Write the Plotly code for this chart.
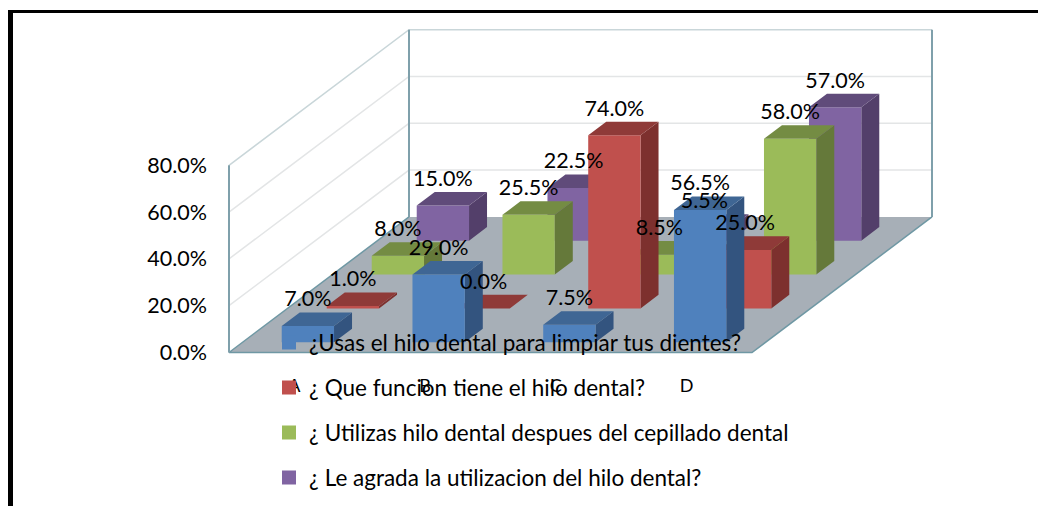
import plotly.graph_objects as go

# ---- data ----
categories = ["A", "B", "C", "D"]
series_names = [
    "¿Usas el hilo dental para limpiar tus dientes?",
    "¿ Que funcion tiene el hilo dental?",
    "¿ Utilizas hilo dental despues del cepillado dental",
    "¿ Le agrada la utilizacion del hilo dental?",
]
usas = [7.0, 29.0, 7.5, 56.5]
funcion = [1.0, 0.0, 74.0, 25.0]
utilizas = [8.0, 25.5, 8.5, 58.0]
agrada = [15.0, 22.5, 5.5, 57.0]
series_values = [usas, funcion, utilizas, agrada]
y_ticks = [0, 20, 40, 60, 80]
y_ticklabels = ["0.0%", "20.0%", "40.0%", "60.0%", "80.0%"]

# ---- styling ----
front_colors = ["#4f81bd", "#c0504d", "#9bbb59", "#8064a2"]
top_colors = ["#3f6694", "#8f3a38", "#748c43", "#604b7a"]
side_colors = ["#33547f", "#7d302e", "#65793a", "#533f6a"]
FONT = "Lato"
FS = 21.5
LEGEND_FS = 22.5

W, H = 1038, 506
X0, Y0 = 229.0, 352.5       # page position of the plot's front-left corner
CAT_PX, PCT_PX = 130.75, 2.34   # pixels per category, pixels per percentage point
ROW_DX, ROW_DY = 45.0, 33.9     # oblique shift per depth row, in pixels
DU, DZ = ROW_DX / CAT_PX, ROW_DY / PCT_PX
ROWS, CATS, ZMAX = 4, 4, 80


def proj(u, v, z):
    """oblique projection of (category, row, value) on the x/y axes"""
    return u + v * DU, z + v * DZ


def poly(points):
    xs, ys = zip(*[proj(*p) for p in points])
    return list(xs) + [xs[0], None], list(ys) + [ys[0], None]


def fill_trace(polys, color):
    xs, ys = [], []
    for p in polys:
        a, b = poly(p)
        xs += a
        ys += b
    return go.Scatter(x=xs, y=ys, mode="lines", fill="toself", fillcolor=color,
                      line=dict(width=0, color=color), hoverinfo="skip", showlegend=False)


def line_trace(pts, color, width):
    xs, ys = zip(*[proj(*p) for p in pts])
    return go.Scatter(x=xs, y=ys, mode="lines", line=dict(color=color, width=width),
                      hoverinfo="skip", showlegend=False)


fig = go.Figure()

# walls' gridlines
for z in y_ticks[1:]:
    color = "#c9d6d9" if z == ZMAX else "#e3e5e6"
    fig.add_trace(line_trace([(0, 0, z), (0, ROWS, z), (CATS, ROWS, z)], color, 1.5))

# floor
fig.add_trace(fill_trace([[(0, 0, 0), (CATS, 0, 0), (CATS, ROWS, 0), (0, ROWS, 0)]], "#a7afb7"))
edge = "#7fa0ab"
fig.add_trace(line_trace([(0, ROWS, 0), (0, 0, 0), (CATS, 0, 0), (CATS, ROWS, 0)], "#6f98a4", 1.5))
for u, v in [(0, 0), (0, ROWS), (CATS, ROWS)]:
    fig.add_trace(line_trace([(u, v, 0), (u, v, ZMAX)], edge, 2))

# bars, back row first
for row in range(ROWS - 1, -1, -1):
    vals = series_values[row]
    fronts, tops, sides = [], [], []
    v0, v1 = row + 0.3, row + 0.7
    for i, val in enumerate(vals):
        u0, u1 = i + 0.3, i + 0.7
        fronts.append([(u0, v0, 0), (u1, v0, 0), (u1, v0, val), (u0, v0, val)])
        tops.append([(u0, v0, val), (u1, v0, val), (u1, v1, val), (u0, v1, val)])
        sides.append([(u1, v0, 0), (u1, v1, 0), (u1, v1, val), (u1, v0, val)])
    fig.add_trace(fill_trace(sides, side_colors[row]))
    fig.add_trace(fill_trace(fronts, front_colors[row]))
    fig.add_trace(fill_trace(tops, top_colors[row]))

# value labels, above everything but the legend
LABEL_UP = 25 / PCT_PX
for row in range(ROWS - 1, -1, -1):
    vals = series_values[row]
    xs, ys = zip(*[proj(i + 0.5, row + 0.3, val) for i, val in enumerate(vals)])
    fig.add_trace(go.Scatter(x=xs, y=[y + LABEL_UP for y in ys], mode="text",
                             text=[f"{val:.1f}%" for val in vals], textposition="middle center",
                             textfont=dict(family=FONT, size=FS, color="#000000"),
                             hoverinfo="skip", showlegend=False))

# legend entries
for name, color in zip(series_names, front_colors):
    fig.add_trace(go.Scatter(x=[None], y=[None], mode="markers", name=name, legendgroup=name,
                             marker=dict(symbol="square", size=14, color=color)))

fig.update_layout(
    width=W, height=H, margin=dict(l=0, r=0, t=0, b=0),
    paper_bgcolor="white", plot_bgcolor="white",
    font=dict(family=FONT, size=FS, color="#000000"),
    xaxis=dict(range=[(0 - X0) / CAT_PX, (W - X0) / CAT_PX], domain=[0, 1],
               anchor="free", position=(H - Y0) / H,
               tickvals=[i + 0.5 for i in range(CATS)], ticktext=categories, ticks="",
               tickfont=dict(family=FONT, size=18), ticklabelstandoff=20,
               showgrid=False, zeroline=False, showline=False, fixedrange=True),
    yaxis=dict(range=[(Y0 - H) / PCT_PX, Y0 / PCT_PX], domain=[0, 1],
               anchor="free", position=X0 / W,
               tickvals=y_ticks, ticktext=y_ticklabels, ticks="",
               ticklabelstandoff=22, showgrid=False, zeroline=False, showline=False, fixedrange=True),
    legend=dict(x=(309 - 40) / W, y=1 - 321.4 / H, xanchor="left", yanchor="top",
                bgcolor="rgba(0,0,0,0)", tracegroupgap=12.7, traceorder="grouped",
                font=dict(family=FONT, size=LEGEND_FS), itemclick=False, itemdoubleclick=False),
    shapes=[
        dict(type="rect", xref="paper", yref="paper", x0=8 / W, x1=13 / W, y0=0, y1=1 - 10 / H,
             fillcolor="#000000", line_width=0),
        dict(type="rect", xref="paper", yref="paper", x0=8 / W, x1=1, y0=1 - 13 / H, y1=1 - 10 / H,
             fillcolor="#000000", line_width=0),
    ],
)

fig.write_html("out.html", config=dict(displayModeBar=False),
               post_script="document.body.style.margin='0';document.body.style.overflow='hidden';")
